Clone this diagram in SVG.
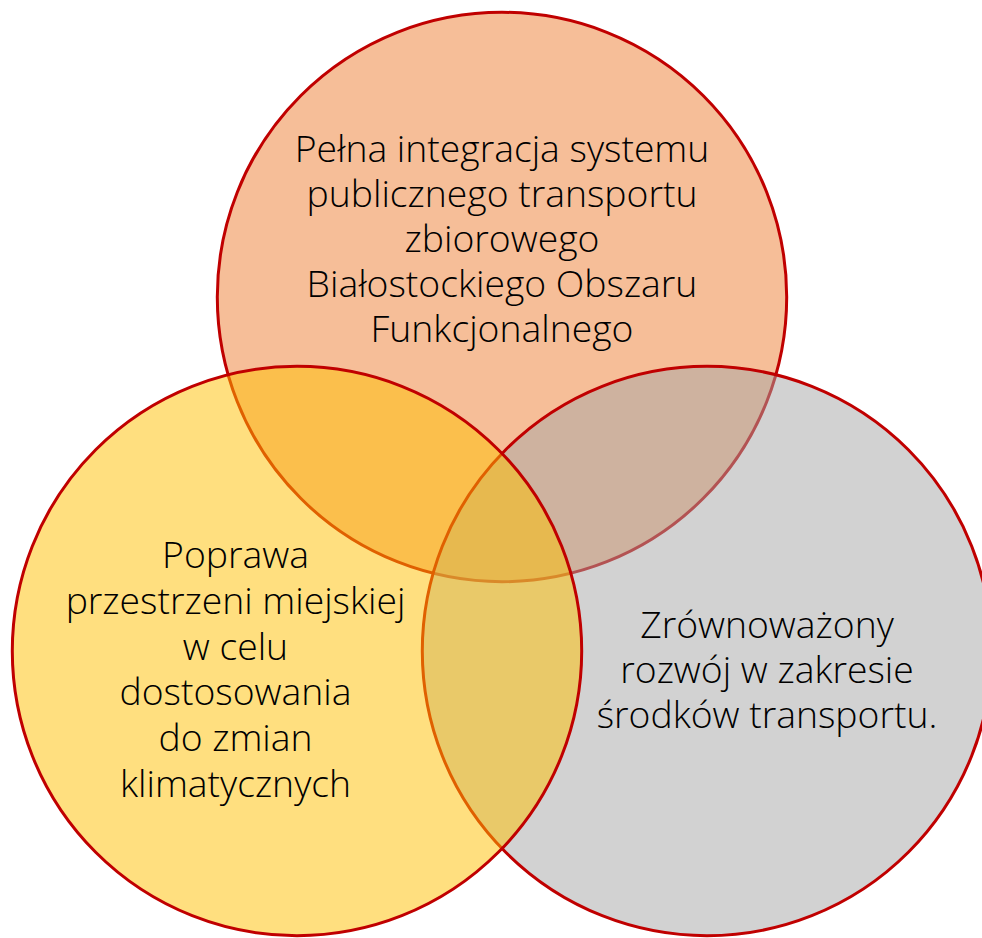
<svg xmlns="http://www.w3.org/2000/svg" width="982" height="938" viewBox="0 0 982 938">
<style>
.c{stroke:#C00000;stroke-width:3;fill-opacity:0.5}
.t{font-family:"Open Sans","Liberation Sans",sans-serif;font-weight:300;font-size:37.3px;fill:#000;text-anchor:middle}
</style>
<rect width="982" height="938" fill="#fff"/>
<g id="top">
<circle class="c" cx="502" cy="297" r="284.7" fill="#ED7D31"/>
</g>
<g id="right">
<circle class="c" cx="707" cy="651" r="284.7" fill="#A5A5A5"/>
</g>
<g id="left">
<circle class="c" cx="297" cy="651" r="284.7" fill="#FFC000"/>
</g>
<g id="connectors"/>
<g id="labels">
<text class="t" x="502"><tspan x="502" y="161.5">Pełna integracja systemu</tspan><tspan x="502" y="206.5">publicznego transportu</tspan><tspan x="502" y="251.5">zbiorowego</tspan><tspan x="502" y="296.5">Białostockiego Obszaru</tspan><tspan x="502" y="341.5">Funkcjonalnego</tspan></text>
<text class="t" x="235"><tspan x="235.5" y="568">Poprawa</tspan><tspan x="235.5" y="613.5">przestrzeni miejskiej</tspan><tspan x="235.5" y="659.5">w celu</tspan><tspan x="235.5" y="705">dostosowania</tspan><tspan x="235.5" y="751">do zmian</tspan><tspan x="235.5" y="796.5">klimatycznych</tspan></text>
<text class="t" x="767"><tspan x="767" y="638">Zrównoważony</tspan><tspan x="767" y="683">rozwój w zakresie</tspan><tspan x="767" y="728">środków transportu.</tspan></text>
</g>
</svg>
